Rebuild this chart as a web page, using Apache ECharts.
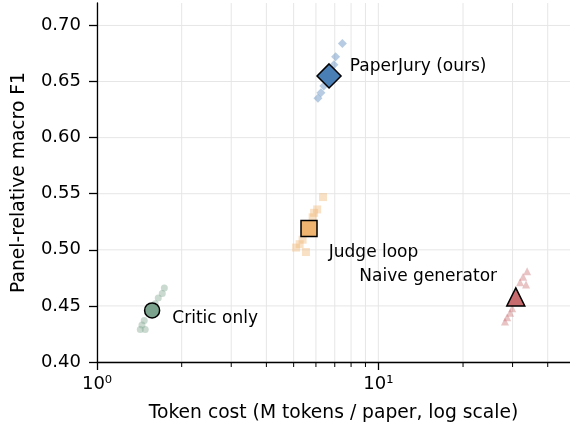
<!DOCTYPE html>
<html>
<head>
<meta charset="utf-8">
<script src="https://cdn.jsdelivr.net/npm/echarts@6/dist/echarts.min.js"></script>
<style>
html, body { margin: 0; padding: 0; background: #fff; }
#chart { width: 570px; height: 432px; }
</style>
</head>
<body>
<div id="chart"></div>
<script>
// methods and their mean point
var methods = ['PaperJury (ours)', 'Judge loop', 'Critic only', 'Naive generator'];
var meanCost = [6.68, 5.67, 1.57, 30.8];
var meanF1 = [0.655, 0.519, 0.446, 0.458];

// individual runs per method
var juryCost = [6.1, 6.25, 6.4, 6.55, 6.85, 6.95, 7.05, 7.45];
var juryF1 = [0.635, 0.640, 0.646, 0.651, 0.660, 0.665, 0.672, 0.684];
var judgeCost = [5.1, 5.25, 5.38, 5.53, 5.84, 5.91, 6.06, 6.36];
var judgeF1 = [0.502, 0.505, 0.509, 0.498, 0.529, 0.533, 0.536, 0.547];
var criticCost = [1.425, 1.445, 1.472, 1.484, 1.61, 1.651, 1.706, 1.735];
var criticF1 = [0.429, 0.433, 0.437, 0.429, 0.452, 0.457, 0.461, 0.466];
var naiveCost = [28.2, 28.7, 29.4, 29.9, 31.9, 33.5, 32.7, 33.8];
var naiveF1 = [0.436, 0.440, 0.444, 0.448, 0.471, 0.469, 0.476, 0.481];

// axis ticks / ranges
var yTicks = [0.40, 0.45, 0.50, 0.55, 0.60, 0.65, 0.70];
var yRange = [0.40, 0.72];
var xRange = [1, 48];
var xMajorTicks = [1, 10];
var xMinorTicks = [2, 3, 4, 5, 6, 7, 8, 9, 20, 30, 40];

var colors = ['#4a7fb6', '#efb470', '#7aa28c', '#c76b6e'];
var bigSymbols = ['diamond', 'rect', 'circle', 'triangle'];
var bigSizes = [24, 16, 15, 18];
var smallSizes = [9, 8, 7, 8];
// label placement for each mean marker
var labelPos = [
    {position: 'right', distance: 8, offset: [0, -9]},
    {position: 'right', distance: 11, offset: [0, 24]},
    {position: 'right', distance: 12, offset: [0, 8]},
    {position: 'left', distance: 9, offset: [0, -20]}
];

var runCost = [juryCost, judgeCost, criticCost, naiveCost];
var runF1 = [juryF1, judgeF1, criticF1, naiveF1];

function zip(a, b) {
    var res = [];
    for (var i = 0; i < a.length; i++) {
        res.push([a[i], b[i]]);
    }
    return res;
}

var gridColor = '#e6e6e6';
var series = [];

// vertical grid lines (major + minor decades)
series.push({
    type: 'custom',
    z: 0,
    silent: true,
    data: xMajorTicks.concat(xMinorTicks).map(function (v) { return [v, yRange[0]]; }),
    encode: {x: 0, y: 1},
    renderItem: function (params, api) {
        var p0 = api.coord([api.value(0), yRange[0]]);
        var p1 = api.coord([api.value(0), yRange[1]]);
        return {
            type: 'line',
            shape: {x1: p0[0], y1: p0[1], x2: p1[0], y2: p1[1]},
            style: {stroke: gridColor, lineWidth: 1}
        };
    }
});

// horizontal grid lines
series.push({
    type: 'custom',
    z: 0,
    silent: true,
    data: yTicks.map(function (v) { return [xRange[0], v]; }),
    encode: {x: 0, y: 1},
    renderItem: function (params, api) {
        var p0 = api.coord([xRange[0], api.value(1)]);
        var p1 = api.coord([xRange[1], api.value(1)]);
        return {
            type: 'line',
            shape: {x1: p0[0], y1: p0[1], x2: p1[0], y2: p1[1]},
            style: {stroke: gridColor, lineWidth: 1}
        };
    }
});

// minor ticks under the log axis
series.push({
    type: 'custom',
    z: 5,
    clip: false,
    silent: true,
    data: xMinorTicks.map(function (v) { return [v, yRange[0]]; }),
    encode: {x: 0, y: 1},
    renderItem: function (params, api) {
        var p = api.coord([api.value(0), api.value(1)]);
        return {
            type: 'line',
            shape: {x1: p[0], y1: p[1], x2: p[0], y2: p[1] + 5},
            style: {stroke: '#000', lineWidth: 1}
        };
    }
});

for (var i = 0; i < methods.length; i++) {
    series.push({
        type: 'scatter',
        name: methods[i] + ' runs',
        symbol: bigSymbols[i],
        symbolSize: smallSizes[i],
        itemStyle: {color: colors[i], opacity: 0.4},
        z: 2,
        data: zip(runCost[i], runF1[i])
    });
}
for (var j = 0; j < methods.length; j++) {
    series.push({
        type: 'scatter',
        name: methods[j],
        symbol: bigSymbols[j],
        symbolSize: bigSizes[j],
        itemStyle: {color: colors[j], borderColor: '#000', borderWidth: 1.5, opacity: 1},
        z: 3,
        label: {
            show: true,
            formatter: methods[j],
            position: labelPos[j].position,
            distance: labelPos[j].distance,
            offset: labelPos[j].offset,
            color: '#000',
            fontSize: 17,
            fontFamily: 'DejaVu Sans'
        },
        data: [[meanCost[j], meanF1[j]]]
    });
}

var myChart = echarts.init(document.getElementById('chart'));
myChart.setOption({
    animation: false,
    textStyle: {fontFamily: 'DejaVu Sans'},
    grid: {left: 97, right: 0, top: 3, bottom: 70},
    xAxis: {
        type: 'log',
        logBase: 10,
        min: xRange[0],
        max: xRange[1],
        z: 10,
        name: 'Token cost (M tokens / paper, log scale)',
        nameLocation: 'middle',
        nameGap: 42,
        nameTextStyle: {fontSize: 18.7, color: '#000'},
        axisLine: {onZero: false, lineStyle: {color: '#000', width: 1.3}},
        axisTick: {length: 8, lineStyle: {color: '#000', width: 1.3}},
        axisLabel: {
            fontSize: 18,
            color: '#000',
            margin: 13,
            showMaxLabel: false,
            formatter: function (v) {
                if (Math.abs(v - 1) < 1e-9) return '10\u2070';
                if (Math.abs(v - 10) < 1e-9) return '10\u00b9';
                return '';
            }
        },
        splitLine: {show: false},
        minorTick: {show: false}
    },
    yAxis: {
        type: 'value',
        min: yRange[0],
        max: yRange[1],
        interval: 0.05,
        z: 10,
        name: 'Panel-relative macro F1',
        nameLocation: 'middle',
        nameGap: 68,
        nameTextStyle: {fontSize: 18.7, color: '#000'},
        axisLine: {show: true, lineStyle: {color: '#000', width: 1.3}},
        axisTick: {show: true, length: 8, lineStyle: {color: '#000', width: 1.3}},
        axisLabel: {
            fontSize: 18,
            color: '#000',
            margin: 16,
            showMaxLabel: false,
            formatter: function (v) { return v.toFixed(2); }
        },
        splitLine: {show: false}
    },
    series: series
});
</script>
</body>
</html>
